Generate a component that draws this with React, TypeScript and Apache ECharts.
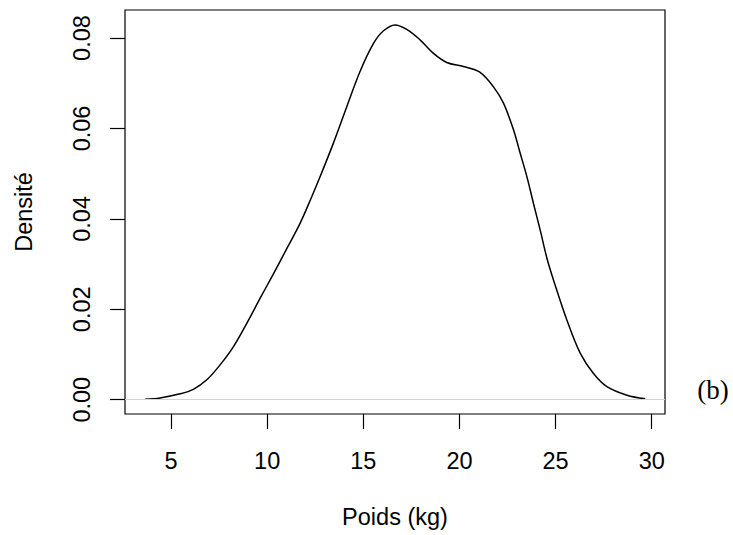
import React, { useEffect, useRef } from "react";
import * as echarts from "echarts";

const weights = [3.65, 4.43, 5.47, 6.16, 6.86, 7.55, 8.24, 8.94, 9.63, 10.32, 11.02, 11.71, 12.28, 12.75, 13.44, 14.14, 14.83, 15.53, 16.05, 16.65, 17.26, 17.95, 18.65, 19.34, 20.21, 21.04, 21.77, 22.29, 22.81, 23.16, 23.51, 23.85, 24.2, 24.55, 24.89, 25.59, 26.28, 26.97, 27.67, 28.71, 29.66];
const densities = [0.0001, 0.0004, 0.0013, 0.0023, 0.0044, 0.0077, 0.0117, 0.0169, 0.0224, 0.0278, 0.0334, 0.039, 0.0445, 0.0493, 0.0567, 0.0648, 0.0726, 0.0788, 0.0816, 0.0829, 0.0819, 0.0796, 0.0766, 0.0746, 0.0737, 0.0725, 0.0692, 0.0656, 0.0597, 0.0545, 0.0493, 0.0434, 0.0375, 0.0313, 0.0265, 0.0176, 0.0103, 0.0058, 0.0029, 0.001, 0.0002];
const xTicks = [5, 10, 15, 20, 25, 30];
const yTicks = [0, 0.02, 0.04, 0.06, 0.08];
const xTitle = "Poids (kg)";
const yTitle = "Densité";
const panelTag = "(b)";

const FONT = "'Liberation Sans', Arial, sans-serif";

export default function App() {
  const ref = useRef<HTMLDivElement>(null);
  useEffect(() => {
    document.body.style.margin = "0";
    const chart = echarts.init(ref.current!, null, { renderer: "svg" });
    chart.setOption({
      animation: false,
      backgroundColor: "#ffffff",
      grid: {
        left: 125,
        top: 10,
        right: 68,
        bottom: 121,
        show: true,
        borderColor: "#000",
        borderWidth: 1.2,
        backgroundColor: "transparent",
      },
      xAxis: {
        type: "value",
        min: 2.607,
        max: 30.69,
        axisLine: { show: false, onZero: false },
        splitLine: { show: false },
        axisTick: {
          show: true,
          customValues: xTicks,
          length: 15,
          lineStyle: { color: "#000", width: 1.2 },
        },
        axisLabel: {
          customValues: xTicks,
          fontFamily: FONT,
          fontSize: 23.5,
          color: "#000",
          margin: 35,
        },
      },
      yAxis: {
        type: "value",
        min: -0.00316,
        max: 0.0862,
        axisLine: { show: false, onZero: false },
        splitLine: { show: false },
        axisTick: {
          show: true,
          customValues: yTicks,
          length: 15,
          lineStyle: { color: "#000", width: 1.2 },
        },
        axisLabel: {
          customValues: yTicks,
          fontFamily: FONT,
          fontSize: 23.5,
          color: "#000",
          margin: 43,
          rotate: 90,
          align: "center",
          verticalAlign: "middle",
          formatter: (v: number) => v.toFixed(2),
        },
      },
      series: [
        {
          type: "line",
          data: weights.map((w, i) => [w, densities[i]]),
          smooth: 0.35,
          showSymbol: false,
          lineStyle: { color: "#000", width: 1.5 },
          markLine: {
            silent: true,
            symbol: "none",
            label: { show: false },
            lineStyle: { color: "#d3d3d3", type: "solid", width: 1.2 },
            data: [{ yAxis: 0 }],
          },
          z: 3,
        },
      ],
      graphic: [
        {
          type: "text",
          x: 24,
          y: 212,
          rotation: Math.PI / 2,
          style: {
            text: yTitle,
            font: `23.5px ${FONT}`,
            fill: "#000",
            align: "center",
            verticalAlign: "middle",
          },
        },
        {
          type: "text",
          x: 395,
          y: 517,
          style: {
            text: xTitle,
            font: `23.5px ${FONT}`,
            fill: "#000",
            align: "center",
            verticalAlign: "middle",
          },
        },
        {
          type: "text",
          x: 713,
          y: 390,
          style: {
            text: panelTag,
            font: `27px 'Liberation Serif', 'Times New Roman', serif`,
            fill: "#000",
            align: "center",
            verticalAlign: "middle",
          },
        },
      ],
    });
    return () => chart.dispose();
  }, []);
  return <div ref={ref} style={{ width: 733, height: 535 }} />;
}
